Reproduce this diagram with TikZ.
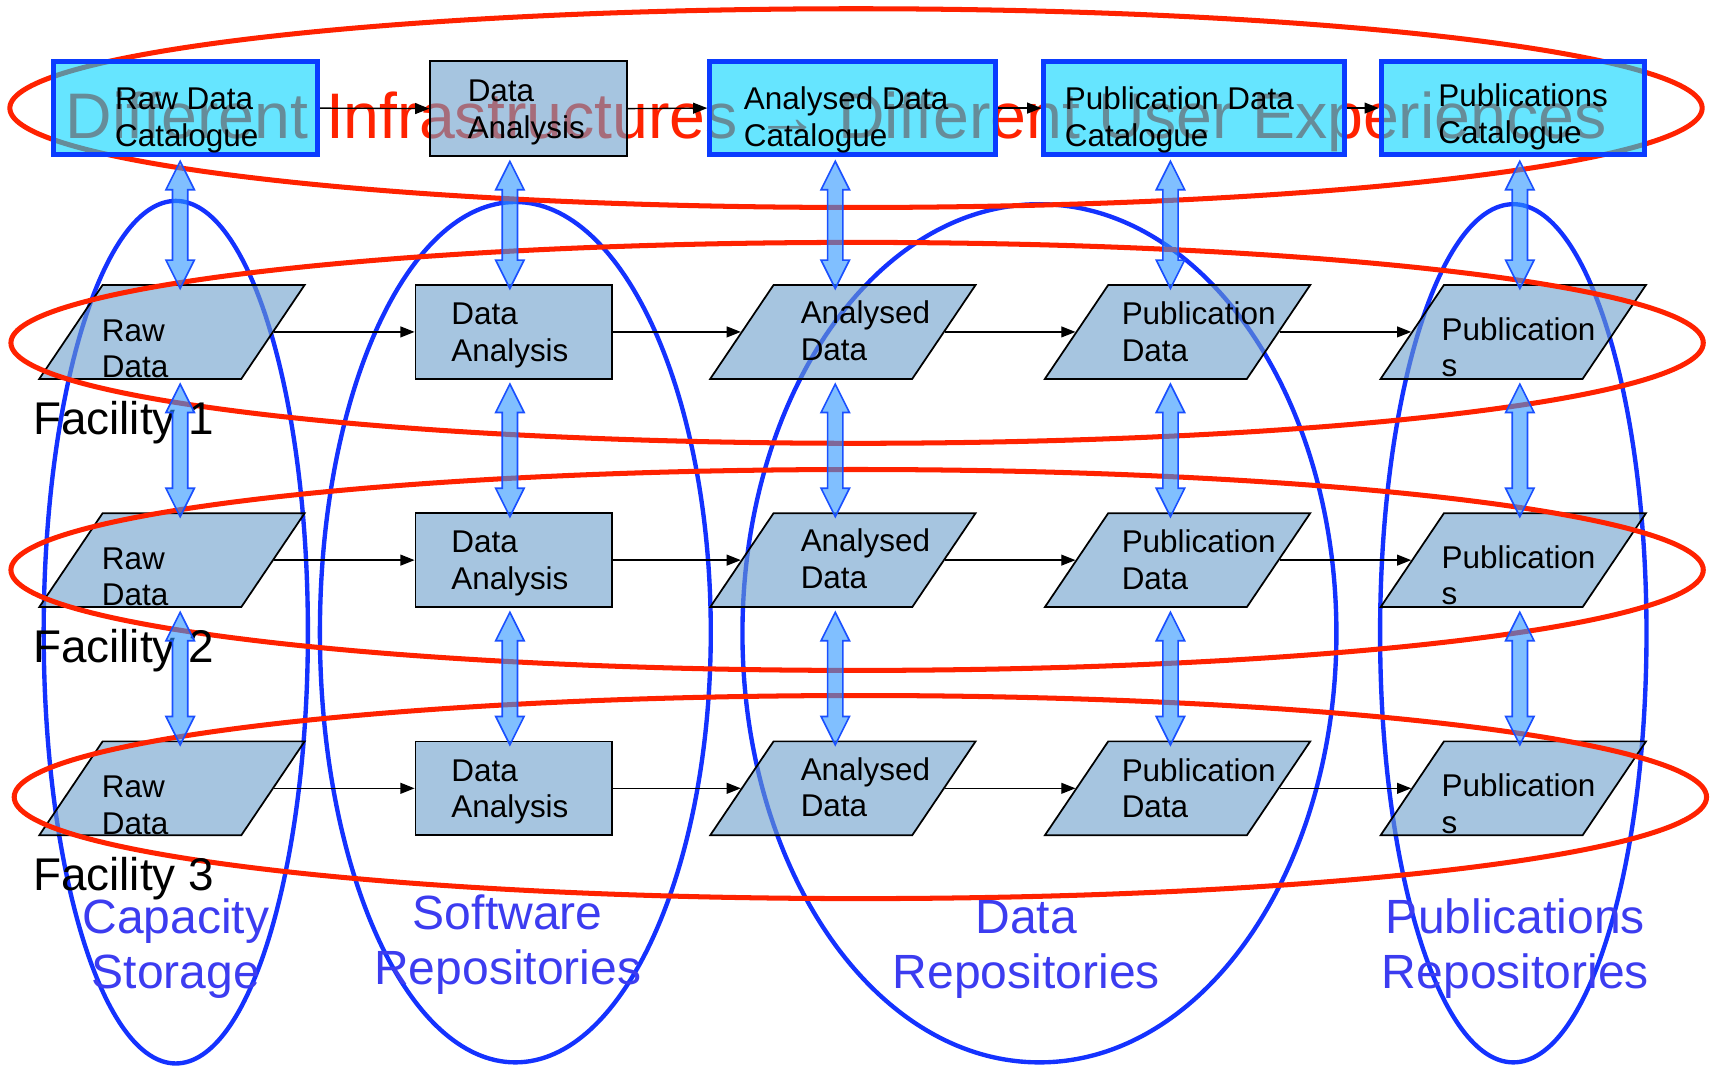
\documentclass[tikz,border=0pt]{standalone}
\usepackage{fontspec}
\setmainfont{Liberation Sans}
\usetikzlibrary{shapes.geometric, arrows.meta, calc}

\definecolor{catfill}{RGB}{0,212,255}
\definecolor{catline}{RGB}{10,60,255}
\definecolor{boxblue}{RGB}{107,158,204}
\definecolor{arrowfill}{RGB}{43,149,255}
\definecolor{arrowline}{RGB}{26,80,255}
\definecolor{ellblue}{RGB}{20,50,255}
\definecolor{ellred}{RGB}{255,34,0}
\definecolor{labelblue}{RGB}{60,60,240}

\tikzset{
  catbox/.style={draw=catline, line width=2.25pt, fill=catfill, fill opacity=0.6, minimum height=42.5pt, inner sep=0pt},
  stepbox/.style={draw=black, line width=0.8pt, fill=boxblue, fill opacity=0.6, minimum width=90pt, minimum height=43pt, inner sep=0pt},
  databox/.style={trapezium, trapezium left angle=56, trapezium right angle=124, draw=black, line width=0.8pt, fill=boxblue, fill opacity=0.6, inner xsep=31.75pt, inner ysep=21.5pt},
  boxtext/.style={anchor=base west, inner sep=0pt, align=left, font=\fontsize{14.4}{16.8}\selectfont},
  facility/.style={anchor=base west, inner sep=0pt, font=\fontsize{21}{25}\selectfont},
  repotext/.style={anchor=base, inner sep=0pt, align=center, text=labelblue, font=\fontsize{22}{25.2}\selectfont},
  headline/.style={anchor=base west, inner sep=0pt, text=ellred, font=\fontsize{29.5}{34}\selectfont},
  repo/.style={draw=ellblue, line width=2pt},
  infra/.style={draw=ellred, line width=2.3pt},
  flowline/.style={->, line width=0.6pt},
  updown/.style={draw=arrowline, line width=0.75pt, fill=arrowfill, fill opacity=0.6,
    to path={let \p1=(\tikztostart), \p2=(\tikztotarget) in
      (\x1,\y1-2pt) -- (\x1+6.5pt,\y1-15pt) -- (\x1+3.5pt,\y1-15pt) -- (\x1+3.5pt,\y2+11pt) -- (\x1+6.5pt,\y2+11pt)
      -- (\x1,\y2-2pt) -- (\x1-6.5pt,\y2+11pt) -- (\x1-3.5pt,\y2+11pt) -- (\x1-3.5pt,\y1-15pt) -- (\x1-6.5pt,\y1-15pt) -- cycle}}
}

\begin{document}
\begin{tikzpicture}[x=0.5pt, y=-0.5pt, >={Triangle[length=6.5pt,width=5pt]}]
\useasboundingbox (0,0) rectangle (1568,976);

% Repository ellipses (one per column)
\draw[repo] (161,579) ellipse [x radius=60.5pt, y radius=197.5pt];
\draw[repo] (472,579) ellipse [x radius=89.5pt, y radius=197pt];
\draw[repo] (952,580) ellipse [x radius=136pt, y radius=196.5pt];
\draw[repo] (1386,580) ellipse [x radius=61pt, y radius=196.5pt];

% Top ellipse and its headline
\draw[infra] (784,99) ellipse [x radius=387.5pt, y radius=45.5pt];
\node[headline] (head) at (60,127) {Different Infrastructures → Different User Experiences};

% Catalogues
\node[catbox, minimum width=121pt] (rdc) at (170,99) {};
\node[stepbox, minimum height=43.5pt] (ana0) at (484,99.5) {};
\node[catbox, minimum width=131pt] (adc) at (781,99) {};
\node[catbox, minimum width=137.5pt] (pdc) at (1093.5,99) {};
\node[catbox, minimum width=120.5pt] (pc) at (1385.5,99) {};

% (text anchored at the baseline of its last line)
\node[boxtext] (rdc-t) at (105,134) {Raw Data\\Catalogue};
\node[boxtext] (ana0-t) at (428,127) {Data\\Analysis};
\node[boxtext] (adc-t) at (681,134) {Analysed Data\\Catalogue};
\node[boxtext] (pdc-t) at (975,134) {Publication Data\\Catalogue};
\node[boxtext] (pc-t) at (1317,131) {Publications\\Catalogue};

% Facility 1
\node[databox] (raw1) at (157.5,304) {};
\node[stepbox] (ana1) at (470.5,304) {};
\node[databox] (ad1) at (772,304) {};
\node[databox] (pd1) at (1078.5,304) {};
\node[databox] (pub1) at (1386,304) {};

\node[boxtext] (raw1-t) at (93,346) {Raw\\Data};
\node[boxtext] (ana1-t) at (413,331) {Data\\Analysis};
\node[boxtext] (ad1-t) at (733,330) {Analysed\\Data};
\node[boxtext] (pd1-t) at (1027,331) {Publication\\Data};
\node[boxtext] (pub1-t) at (1320,345) {Publication\\s};

% Facility 2
\node[databox] (raw2) at (157.5,513) {};
\node[stepbox] (ana2) at (470.5,513) {};
\node[databox] (ad2) at (772,513) {};
\node[databox] (pd2) at (1078.5,513) {};
\node[databox] (pub2) at (1386,513) {};

\node[boxtext] (raw2-t) at (93,555) {Raw\\Data};
\node[boxtext] (ana2-t) at (413,540) {Data\\Analysis};
\node[boxtext] (ad2-t) at (733,539) {Analysed\\Data};
\node[boxtext] (pd2-t) at (1027,540) {Publication\\Data};
\node[boxtext] (pub2-t) at (1320,554) {Publication\\s};

% Facility 3
\node[databox] (raw3) at (157.5,722) {};
\node[stepbox] (ana3) at (470.5,722) {};
\node[databox] (ad3) at (772,722) {};
\node[databox] (pd3) at (1078.5,722) {};
\node[databox] (pub3) at (1386,722) {};

\node[boxtext] (raw3-t) at (93,764) {Raw\\Data};
\node[boxtext] (ana3-t) at (413,749) {Data\\Analysis};
\node[boxtext] (ad3-t) at (733,748) {Analysed\\Data};
\node[boxtext] (pd3-t) at (1027,749) {Publication\\Data};
\node[boxtext] (pub3-t) at (1320,763) {Publication\\s};

% Facility ellipses
\draw[infra] (785,314) ellipse [x radius=387.5pt, y radius=46pt];
\draw[infra] (785,522) ellipse [x radius=387.5pt, y radius=46pt];
\draw[infra] (788,730) ellipse [x radius=387.5pt, y radius=46.5pt];

\node[facility] (fac1) at (30,398) {Facility 1};
\node[facility] (fac2) at (30,607) {Facility 2};
\node[facility] (fac3) at (30,816) {Facility 3};

% Workflow arrows
\draw[flowline] (rdc.east) -- (ana0.west);
\draw[flowline] (ana0.east) -- (adc.west);
\draw[flowline] (adc.east) -- (pdc.west);
\draw[flowline] (pdc.east) -- (pc.west);

\draw[flowline] (raw1) -- (ana1);
\draw[flowline] (ana1) -- (ad1);
\draw[flowline] (ad1) -- (pd1);
\draw[flowline] (pd1) -- (pub1);

\draw[flowline] (raw2) -- (ana2);
\draw[flowline] (ana2) -- (ad2);
\draw[flowline] (ad2) -- (pd2);
\draw[flowline] (pd2) -- (pub2);

\draw[flowline] (raw3) -- (ana3);
\draw[flowline] (ana3) -- (ad3);
\draw[flowline] (ad3) -- (pd3);
\draw[flowline] (pd3) -- (pub3);

% Links between the levels
\coordinate (col1) at (165,0);
\coordinate (col2) at (467,0);
\coordinate (col3) at (765,0);
\coordinate (col4) at (1072,0);
\coordinate (col5) at (1392,0);

\draw[updown] (rdc.south -| col1) to (raw1.north -| col1);
\draw[updown] (raw1.south -| col1) to (raw2.north -| col1);
\draw[updown] (raw2.south -| col1) to (raw3.north -| col1);

\draw[updown] (ana0.south -| col2) to (ana1.north -| col2);
\draw[updown] (ana1.south -| col2) to (ana2.north -| col2);
\draw[updown] (ana2.south -| col2) to (ana3.north -| col2);

\draw[updown] (adc.south -| col3) to (ad1.north -| col3);
\draw[updown] (ad1.south -| col3) to (ad2.north -| col3);
\draw[updown] (ad2.south -| col3) to (ad3.north -| col3);

\draw[updown] (pdc.south -| col4) to (pd1.north -| col4);
\draw[updown] (pd1.south -| col4) to (pd2.north -| col4);
\draw[updown] (pd2.south -| col4) to (pd3.north -| col4);

\draw[updown] (pc.south -| col5) to (pub1.north -| col5);
\draw[updown] (pub1.south -| col5) to (pub2.north -| col5);
\draw[updown] (pub2.south -| col5) to (pub3.north -| col5);

% Repository names
\node[repotext] (cap) at (161,905) {Capacity\\Storage};
\node[repotext] (soft) at (465,902) {Software\\Repositories};
\node[repotext] (data) at (940,905) {Data\\Repositories};
\node[repotext] (publ) at (1388,905) {Publications\\Repositories};

\end{tikzpicture}
\end{document}
